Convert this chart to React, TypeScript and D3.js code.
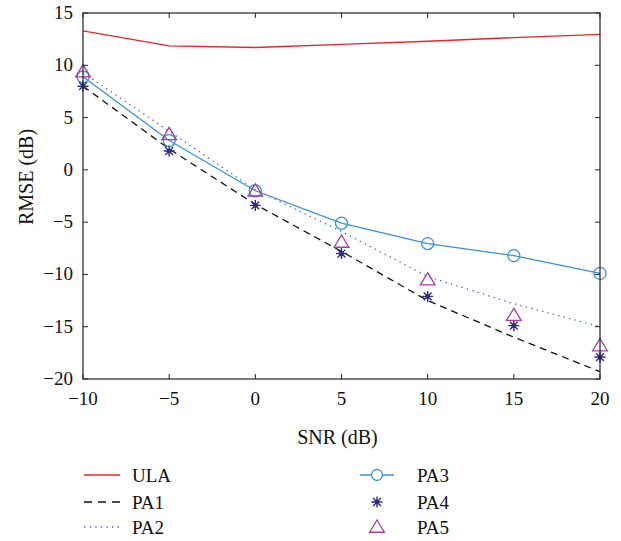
import * as d3 from "d3";

// SNR in dB
const snr = [-10, -5, 0, 5, 10, 15, 20];

// RMSE in dB, one series per array
const ula = [13.3, 11.85, 11.7, 12.0, 12.3, 12.65, 12.95];
const pa1 = [8.0, 2.0, -3.3, -7.8, -12.5, -16.0, -19.3];
const pa2 = [9.3, 3.7, -1.9, -5.9, -10.2, -12.8, -15.0];
const pa3 = [8.9, 2.8, -2.0, -5.1, -7.05, -8.2, -9.9];
const pa4 = [8.0, 1.8, -3.4, -8.0, -12.1, -14.9, -17.9];
const pa5 = [9.4, 3.4, -2.0, -6.9, -10.5, -13.9, -16.8];

const xTicks = [-10, -5, 0, 5, 10, 15, 20];
const yTicks = [-20, -15, -10, -5, 0, 5, 10, 15];

const RED = "#e8232b";
const BLUE = "#3b8fd8";
const DOT_BLUE = "#4a6cd0";
const NAVY = "#2b2f80";
const MAGENTA = "#a63aa6";
const FONT = "Liberation Serif, Times New Roman, DejaVu Serif, serif";

const width = 621;
const height = 541;
const left = 83;
const right = 600;
const top = 13;
const bottom = 379;

function asteriskPath(r) {
  const d = r * Math.SQRT1_2;
  return `M${-r},0L${r},0M0,${-r}L0,${r}M${-d},${-d}L${d},${d}M${-d},${d}L${d},${-d}`;
}

function trianglePath(r) {
  return `M0,${-r}L${r * 1.05},${r * 0.75}L${-r * 1.05},${r * 0.75}Z`;
}

function Asterisk({ x, y }) {
  return (
    <g transform={`translate(${x},${y})`}>
      <path d={asteriskPath(5.5)} stroke={NAVY} strokeWidth={1.4} fill="none" />
      <circle r={2.4} fill={NAVY} />
    </g>
  );
}

export default function App() {
  const x = d3.scaleLinear().domain([-10, 20]).range([left, right]);
  const y = d3.scaleLinear().domain([-20, 15]).range([bottom, top]);
  const fmt = d3.format("d");

  const line = (vals) =>
    d3
      .line()
      .x((_, i) => x(snr[i]))
      .y((d) => y(d))(vals);

  const tickLen = 5;
  const legendRows = [475, 502, 527];
  const txt = { fontFamily: FONT, fill: "#111" };

  return (
    <svg
      width={width}
      height={height}
      style={{ position: "absolute", left: 0, top: 0, display: "block", background: "#fff" }}
    >
      {/* series */}
      <path d={line(ula)} fill="none" stroke={RED} strokeWidth={1.3} />
      <path d={line(pa1)} fill="none" stroke="#111" strokeWidth={1.3} strokeDasharray="7,5" />
      <path d={line(pa2)} fill="none" stroke={DOT_BLUE} strokeWidth={1.3} strokeDasharray="1.4,4.2" />
      <path d={line(pa3)} fill="none" stroke={BLUE} strokeWidth={1.3} />
      {pa3.map((v, i) => (
        <circle key={`c${i}`} cx={x(snr[i])} cy={y(v)} r={6} fill="none" stroke={BLUE} strokeWidth={1.3} />
      ))}
      {pa4.map((v, i) => (
        <Asterisk key={`a${i}`} x={x(snr[i])} y={y(v)} />
      ))}
      {pa5.map((v, i) => (
        <path
          key={`t${i}`}
          d={trianglePath(7)}
          transform={`translate(${x(snr[i])},${y(v)})`}
          fill="none"
          stroke={MAGENTA}
          strokeWidth={1.3}
        />
      ))}

      {/* frame and ticks */}
      <rect x={left} y={top} width={right - left} height={bottom - top} fill="none" stroke="#222" strokeWidth={1.2} />
      {xTicks.map((t) => (
        <g key={`xt${t}`}>
          <line x1={x(t)} x2={x(t)} y1={bottom} y2={bottom - tickLen} stroke="#222" />
          <line x1={x(t)} x2={x(t)} y1={top} y2={top + tickLen} stroke="#222" />
          <text x={x(t)} y={405} textAnchor="middle" fontSize={19} style={txt}>
            {fmt(t)}
          </text>
        </g>
      ))}
      {yTicks.map((t) => (
        <g key={`yt${t}`}>
          <line x1={left} x2={left + tickLen} y1={y(t)} y2={y(t)} stroke="#222" />
          <line x1={right} x2={right - tickLen} y1={y(t)} y2={y(t)} stroke="#222" />
          <text x={73} y={y(t) + 6} textAnchor="end" fontSize={19} style={txt}>
            {fmt(t)}
          </text>
        </g>
      ))}

      <text x={(left + right) / 2 - 4} y={444} textAnchor="middle" fontSize={20} style={txt}>
        SNR (dB)
      </text>
      <text transform={`translate(33,${177}) rotate(-90)`} textAnchor="middle" fontSize={20} style={txt}>
        RMSE (dB)
      </text>

      {/* legend, left column */}
      <line x1={84} x2={120} y1={legendRows[0]} y2={legendRows[0]} stroke={RED} strokeWidth={1.5} />
      <line x1={84} x2={120} y1={legendRows[1]} y2={legendRows[1]} stroke="#111" strokeWidth={1.3} strokeDasharray="8,6" />
      <line x1={84} x2={120} y1={legendRows[2]} y2={legendRows[2]} stroke={DOT_BLUE} strokeWidth={1.3} strokeDasharray="1.4,4.2" />
      {["ULA", "PA1", "PA2"].map((s, i) => (
        <text key={s} x={132} y={legendRows[i] + 6.5} fontSize={19} style={txt}>
          {s}
        </text>
      ))}

      {/* legend, right column */}
      <line x1={360} x2={394} y1={legendRows[0]} y2={legendRows[0]} stroke={BLUE} strokeWidth={1.3} />
      <circle cx={377} cy={legendRows[0]} r={5.5} fill="#fff" stroke={BLUE} strokeWidth={1.3} />
      <Asterisk x={377} y={legendRows[1]} />
      <path d={trianglePath(7)} transform={`translate(377,${legendRows[2]})`} fill="none" stroke={MAGENTA} strokeWidth={1.3} />
      {["PA3", "PA4", "PA5"].map((s, i) => (
        <text key={s} x={417} y={legendRows[i] + 6.5} fontSize={19} style={txt}>
          {s}
        </text>
      ))}
    </svg>
  );
}
